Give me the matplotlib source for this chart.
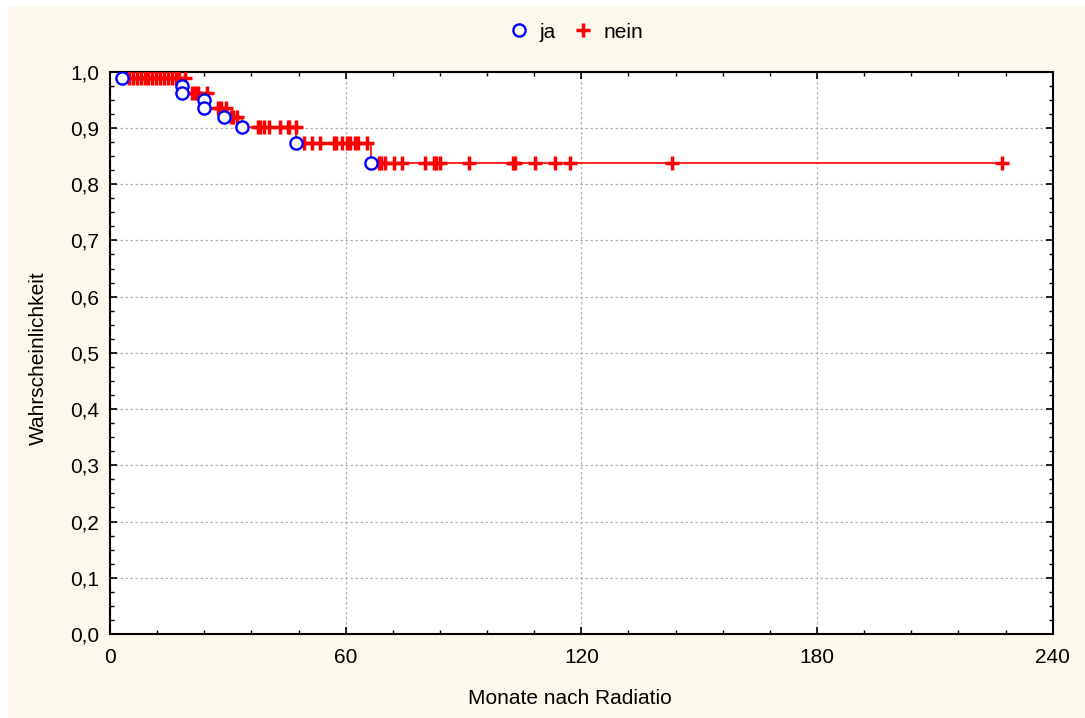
import numpy as np
import matplotlib
matplotlib.use("Agg")
import matplotlib.pyplot as plt
from matplotlib.ticker import MultipleLocator, FuncFormatter
from matplotlib.lines import Line2D

plt.rcParams['font.family'] = ['Liberation Sans', 'DejaVu Sans']

# Ereignisse (ja): Zeitpunkt und Überlebenswahrscheinlichkeit
ja_t = [3.1, 18.3, 18.3, 24.0, 24.0, 29.1, 33.5, 47.4, 66.4]
ja_s = [0.989, 0.975, 0.963, 0.950, 0.935, 0.919, 0.902, 0.874, 0.837]

# zensierte Fälle (nein), je Stufe
nein_t1 = [4.8, 5.8, 6.8, 7.8, 8.8, 9.8, 10.8, 11.8, 12.8, 13.8, 14.8, 15.8, 16.8, 17.6, 19.1]
nein_t2 = [20.8, 21.6, 22.4, 24.6]
nein_t3 = [27.4, 28.2, 29.6]
nein_t4 = [30.8, 31.4, 32.3]
nein_t5 = [37.6, 38.2, 39.1, 40.6, 43.3, 45.2, 45.6, 47.4]
nein_t6 = [49.4, 51.4, 53.5, 57.0, 57.6, 59.0, 60.4, 61.0, 62.5, 63.1, 65.4]
nein_t7 = [68.4, 69.0, 70.1, 72.2, 74.3, 80.3, 82.5, 83.1, 84.1, 91.3, 102.5, 103.1,
           108.3, 113.4, 117.2, 143.1, 227.2]
nein_s = [0.989, 0.963, 0.935, 0.919, 0.902, 0.874, 0.837]

# Kurve (Stufenfunktion)
kurve_t = [3.1, 18.3, 24.0, 29.1, 33.5, 47.4, 66.4, 227.5]
kurve_s = [0.989, 0.963, 0.935, 0.919, 0.902, 0.874, 0.837, 0.837]

bg = '#fdf8ec'
fs = 15
fig = plt.figure(figsize=(10.85, 7.18), dpi=100, facecolor='white')
fig.patches.append(plt.Rectangle((8/1085, 0), 1, 1 - 6/718, transform=fig.transFigure,
                                 facecolor=bg, edgecolor='none', zorder=-10))
ax = fig.add_axes([110/1085, 84/718, 942.7/1085, 562.3/718])
ax.set_facecolor('white')

ax.step(kurve_t, kurve_s, where='post', color='red', lw=1.2, zorder=3)

nein_gruppen = [nein_t1, nein_t2, nein_t3, nein_t4, nein_t5, nein_t6, nein_t7]
for ts, s in zip(nein_gruppen, nein_s):
    ax.plot(ts, [s] * len(ts), ls='none', marker='+', ms=9.5, mew=2.5, color='red', zorder=4)

ax.plot(ja_t, ja_s, ls='none', marker='o', ms=8.8, mew=1.7, mfc='white', mec='blue', zorder=5)

ax.set_xlim(0, 240)
ax.set_ylim(0, 1.0)
ax.xaxis.set_major_locator(MultipleLocator(60))
ax.xaxis.set_minor_locator(MultipleLocator(12))
ax.yaxis.set_major_locator(MultipleLocator(0.1))
ax.yaxis.set_minor_locator(MultipleLocator(0.025))
ax.yaxis.set_major_formatter(FuncFormatter(lambda v, p: ('%.1f' % v).replace('.', ',')))
ax.tick_params(which='both', direction='in', top=True, right=True, labelsize=fs, colors='black')
ax.tick_params(which='major', length=5, width=1.2, pad=8)
ax.tick_params(axis='x', which='major', pad=10)
ax.tick_params(which='minor', length=3, width=1.0)
ax.grid(True, which='major', color='#b0b0b0', ls=(0, (2, 2)), lw=0.9)
for sp in ax.spines.values():
    sp.set_linewidth(1.5)

ax.set_xlabel('Monate nach Radiatio', fontsize=fs)
ax.xaxis.set_label_coords(0.488, -0.098)
ax.set_ylabel('Wahrscheinlichkeit', fontsize=fs)
ax.yaxis.set_label_coords(-0.066, 0.49)

handles = [Line2D([], [], ls='none', marker='o', ms=8.8, mew=1.7, mfc='white', mec='blue'),
           Line2D([], [], ls='none', marker='+', ms=9.5, mew=2.5, color='red')]
fig.legend(handles, ['ja', 'nein'], loc='center', bbox_to_anchor=(0.532, 1 - 32/718), ncol=2,
           frameon=False, fontsize=fs, handlelength=0.8, handletextpad=0.6, columnspacing=0.9)

fig.savefig('out.png', dpi=100, facecolor=fig.get_facecolor())
